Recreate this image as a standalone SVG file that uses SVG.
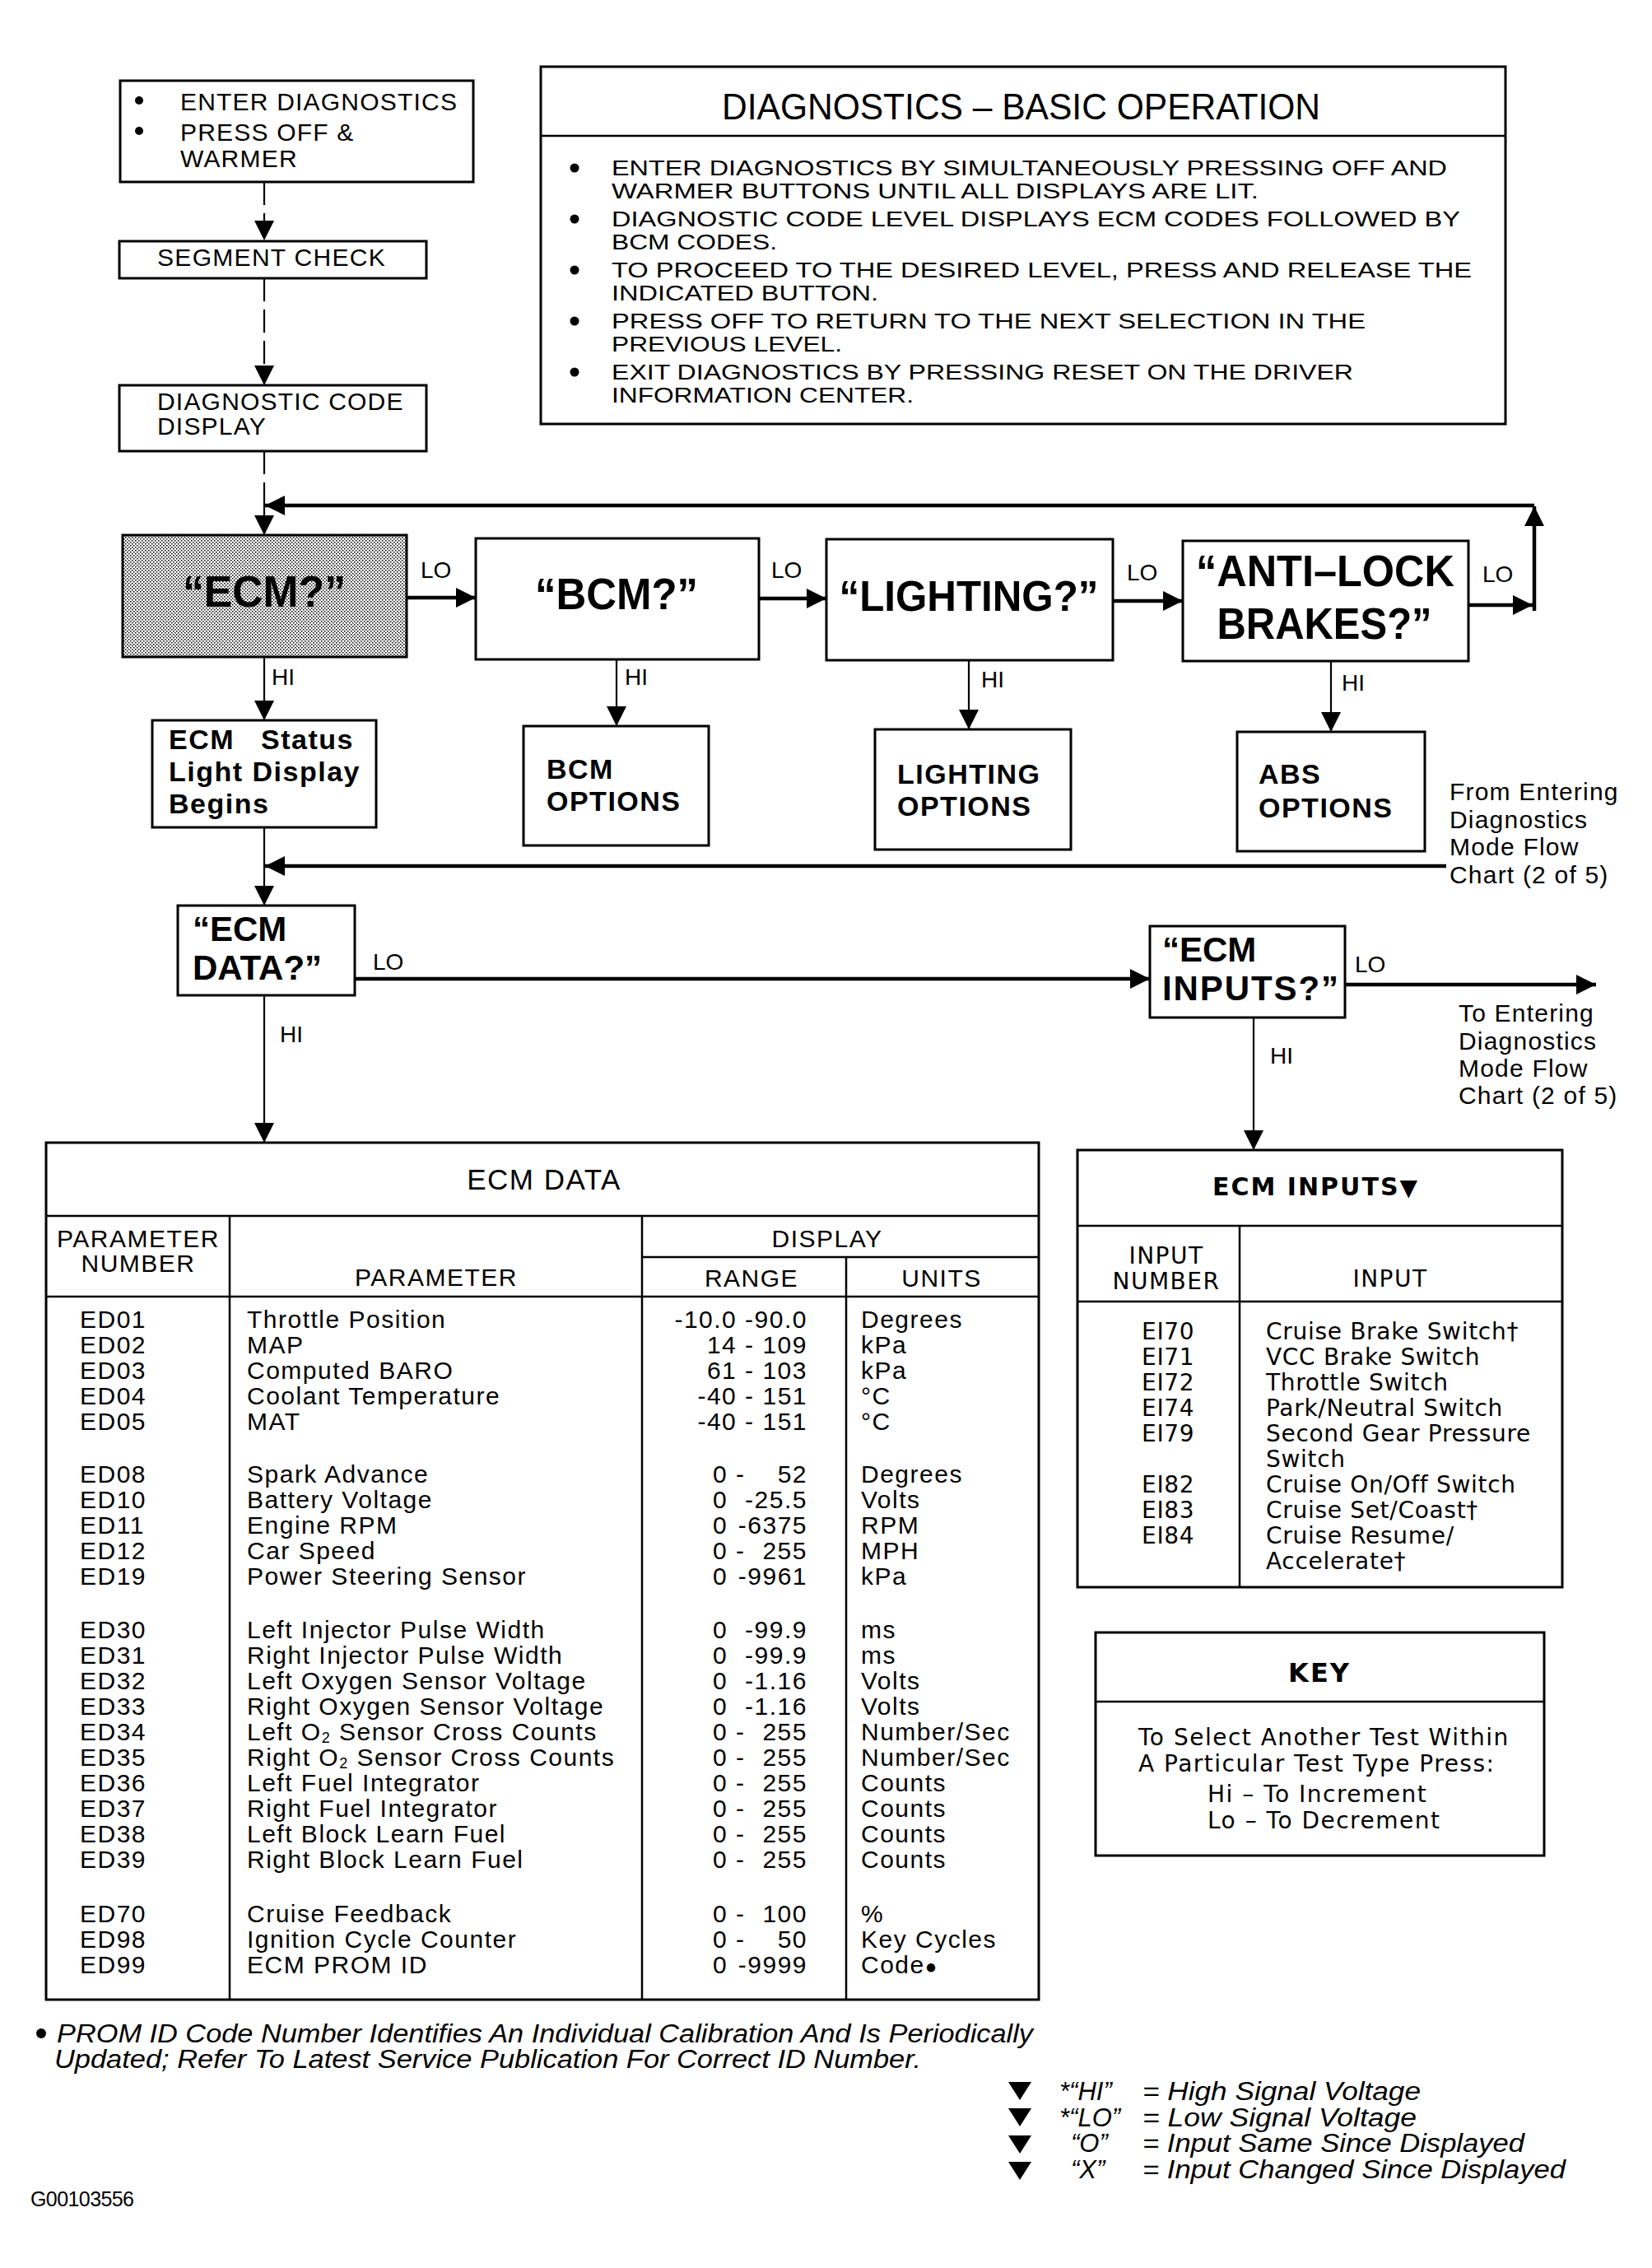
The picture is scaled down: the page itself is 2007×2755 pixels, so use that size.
<svg xmlns="http://www.w3.org/2000/svg" width="2007" height="2755" viewBox="0 0 2007 2755">
<style>
.bx{fill:none;stroke:#000;stroke-width:3}
.ln{fill:none;stroke:#000;stroke-width:2.5}
.c{fill:none;stroke:#000;stroke-width:2.2}
.th{stroke-width:4.5}
.d{stroke-dasharray:28 10}
text{font-family:"Liberation Sans",Arial,sans-serif;fill:#000}
.t{font-size:30px;letter-spacing:1.2px}
.bo{font-size:25px}
.tb{font-size:30px;letter-spacing:1.5px}
.lb{font-size:28px}
.big{font-size:54px;font-weight:bold}
.mb{font-size:42px;font-weight:bold}
.ob{font-size:34px;font-weight:bold;letter-spacing:1.5px}
.w{font-family:"DejaVu Sans",sans-serif;font-size:28px;letter-spacing:0.7px}
.wk{font-family:"DejaVu Sans",sans-serif;font-size:28px;letter-spacing:1.5px}
.wh{font-family:"DejaVu Sans",sans-serif;font-size:28px;letter-spacing:1.5px}
.wb{font-family:"DejaVu Sans",sans-serif;font-size:30px;font-weight:bold;letter-spacing:2px}
.it{font-size:31px;font-style:italic}
.m{text-anchor:middle}
.e{text-anchor:end}
</style>
<defs>
<marker id="ah" markerUnits="userSpaceOnUse" markerWidth="24" markerHeight="24" viewBox="0 0 24 24" refX="24" refY="12" orient="auto"><path d="M0,0 L24,12 L0,24 z" fill="#000"/></marker>
<pattern id="stip" width="4" height="4" patternUnits="userSpaceOnUse"><rect width="4" height="4" fill="#fff"/><rect width="1.5" height="1.5" fill="#000"/><rect x="2" y="2" width="1.5" height="1.5" fill="#000"/></pattern>
<polygon id="tri" points="-14,0 14,0 0,22" fill="#000"/>
</defs>
<rect width="2007" height="2755" fill="#fff"/>

<g id="connectors">
<path class="c d" d="M321,221 V292" marker-end="url(#ah)"/>
<path class="c d" d="M321,338 V468" marker-end="url(#ah)"/>
<path class="c d" d="M321,548 V614"/>
<path class="c" d="M321,614 V650" marker-end="url(#ah)"/>
<path class="c th" d="M1864,614 H322" marker-end="url(#ah)"/>
<path class="c th" d="M1864,742 V615" marker-end="url(#ah)"/>
<path class="c th" d="M494,726 H578" marker-end="url(#ah)"/>
<path class="c th" d="M922,727 H1004" marker-end="url(#ah)"/>
<path class="c th" d="M1352,730 H1437" marker-end="url(#ah)"/>
<path class="c th" d="M1784,735 H1862" marker-end="url(#ah)"/>
<path class="c" d="M321,798 V875" marker-end="url(#ah)"/>
<path class="c" d="M749,801 V882" marker-end="url(#ah)"/>
<path class="c" d="M1177,802 V886" marker-end="url(#ah)"/>
<path class="c" d="M1617,803 V889" marker-end="url(#ah)"/>
<path class="c" d="M321,1005 V1100" marker-end="url(#ah)"/>
<path class="c th" d="M1757,1052 H322" marker-end="url(#ah)"/>
<path class="c th" d="M431,1189 H1397" marker-end="url(#ah)"/>
<path class="c th" d="M1634,1196 H1939" marker-end="url(#ah)"/>
<path class="c" d="M321,1209 V1388" marker-end="url(#ah)"/>
<path class="c" d="M1523,1236 V1397" marker-end="url(#ah)"/>
<text class="lb" x="511" y="702">LO</text>
<text class="lb" x="937" y="702">LO</text>
<text class="lb" x="1369" y="705">LO</text>
<text class="lb" x="1801" y="707">LO</text>
<text class="lb" x="453" y="1178">LO</text>
<text class="lb" x="1646" y="1181">LO</text>
<text class="lb" x="330" y="832">HI</text>
<text class="lb" x="759" y="832">HI</text>
<text class="lb" x="1192" y="835">HI</text>
<text class="lb" x="1630" y="839">HI</text>
<text class="lb" x="340" y="1266">HI</text>
<text class="lb" x="1543" y="1292">HI</text>
</g>

<g id="enter">
<rect class="bx" x="146" y="98" width="429" height="123"/>
<circle cx="169" cy="122" r="5"/>
<circle cx="169" cy="159" r="5"/>
<text class="t" x="219" y="134">ENTER DIAGNOSTICS</text>
<text class="t" x="219" y="171">PRESS OFF &amp;</text>
<text class="t" x="219" y="203">WARMER</text>
</g>

<g id="segment">
<rect class="bx" x="145" y="293" width="373" height="45"/>
<text class="t" x="191" y="323" textLength="278">SEGMENT CHECK</text>
</g>

<g id="codedisplay">
<rect class="bx" x="145" y="468" width="373" height="80"/>
<text class="t" x="191" y="498">DIAGNOSTIC CODE</text>
<text class="t" x="191" y="528">DISPLAY</text>
</g>

<g id="basic">
<rect class="bx" x="657" y="81" width="1172" height="434"/>
<line class="ln" x1="657" y1="165" x2="1829" y2="165"/>
<text x="877" y="145" style="font-size:44px" textLength="727" lengthAdjust="spacingAndGlyphs">DIAGNOSTICS – BASIC OPERATION</text>
<circle cx="698" cy="204" r="5.5"/>
<circle cx="698" cy="266" r="5.5"/>
<circle cx="698" cy="328" r="5.5"/>
<circle cx="698" cy="390" r="5.5"/>
<circle cx="698" cy="452" r="5.5"/>
<text class="bo" x="743" y="213" textLength="1015" lengthAdjust="spacingAndGlyphs">ENTER DIAGNOSTICS BY SIMULTANEOUSLY PRESSING OFF AND</text>
<text class="bo" x="743" y="241" textLength="786" lengthAdjust="spacingAndGlyphs">WARMER BUTTONS UNTIL ALL DISPLAYS ARE LIT.</text>
<text class="bo" x="743" y="275" textLength="1031" lengthAdjust="spacingAndGlyphs">DIAGNOSTIC CODE LEVEL DISPLAYS ECM CODES FOLLOWED BY</text>
<text class="bo" x="743" y="303" textLength="201" lengthAdjust="spacingAndGlyphs">BCM CODES.</text>
<text class="bo" x="743" y="337" textLength="1045" lengthAdjust="spacingAndGlyphs">TO PROCEED TO THE DESIRED LEVEL, PRESS AND RELEASE THE</text>
<text class="bo" x="743" y="365" textLength="324" lengthAdjust="spacingAndGlyphs">INDICATED BUTTON.</text>
<text class="bo" x="743" y="399" textLength="916" lengthAdjust="spacingAndGlyphs">PRESS OFF TO RETURN TO THE NEXT SELECTION IN THE</text>
<text class="bo" x="743" y="427" textLength="280" lengthAdjust="spacingAndGlyphs">PREVIOUS LEVEL.</text>
<text class="bo" x="743" y="461" textLength="901" lengthAdjust="spacingAndGlyphs">EXIT DIAGNOSTICS BY PRESSING RESET ON THE DRIVER</text>
<text class="bo" x="743" y="489" textLength="367" lengthAdjust="spacingAndGlyphs">INFORMATION CENTER.</text>
</g>

<g id="ecm">
<rect x="149" y="650" width="345" height="148" fill="url(#stip)" stroke="#000" stroke-width="3"/>
<text class="big m" x="321" y="737" textLength="198" lengthAdjust="spacingAndGlyphs">“ECM?”</text>
</g>
<g id="bcm">
<rect class="bx" x="578" y="654" width="344" height="147"/>
<text class="big m" x="749" y="740" textLength="198" lengthAdjust="spacingAndGlyphs">“BCM?”</text>
</g>
<g id="lighting">
<rect class="bx" x="1004" y="655" width="348" height="147"/>
<text class="big m" x="1177" y="742" style="font-size:52px" textLength="315" lengthAdjust="spacingAndGlyphs">“LIGHTING?”</text>
</g>
<g id="antilock">
<rect class="bx" x="1437" y="657" width="347" height="146"/>
<text class="big m" x="1610" y="712" textLength="314" lengthAdjust="spacingAndGlyphs">“ANTI–LOCK</text>
<text class="big m" x="1609" y="776" textLength="261" lengthAdjust="spacingAndGlyphs">BRAKES?”</text>
</g>

<g id="ecmstatus">
<rect class="bx" x="185" y="875" width="272" height="130"/>
<text class="ob" x="205" y="910">ECM<tspan x="317">Status</tspan></text>
<text class="ob" x="205" y="949">Light Display</text>
<text class="ob" x="205" y="988">Begins</text>
</g>
<g id="bcmoptions">
<rect class="bx" x="636" y="882" width="225" height="145"/>
<text class="ob" x="664" y="946">BCM</text>
<text class="ob" x="664" y="985">OPTIONS</text>
</g>
<g id="lightingoptions">
<rect class="bx" x="1063" y="886" width="238" height="146"/>
<text class="ob" x="1090" y="952">LIGHTING</text>
<text class="ob" x="1090" y="991">OPTIONS</text>
</g>
<g id="absoptions">
<rect class="bx" x="1503" y="889" width="228" height="145"/>
<text class="ob" x="1529" y="952">ABS</text>
<text class="ob" x="1529" y="993">OPTIONS</text>
</g>

<g id="fromnote">
<text class="t" x="1761" y="972">From Entering</text>
<text class="t" x="1761" y="1006">Diagnostics</text>
<text class="t" x="1761" y="1039">Mode Flow</text>
<text class="t" x="1761" y="1073">Chart (2 of 5)</text>
</g>

<g id="ecmdataq">
<rect class="bx" x="216" y="1100" width="215" height="109"/>
<text class="mb" x="234" y="1143">“ECM</text>
<text class="mb" x="234" y="1190">DATA?”</text>
</g>
<g id="ecminputsq">
<rect class="bx" x="1397" y="1125" width="237" height="111"/>
<text class="mb" x="1412" y="1168">“ECM</text>
<text class="mb" x="1412" y="1215" textLength="214">INPUTS?”</text>
</g>

<g id="tonote">
<text class="t" x="1772" y="1241">To Entering</text>
<text class="t" x="1772" y="1275">Diagnostics</text>
<text class="t" x="1772" y="1308">Mode Flow</text>
<text class="t" x="1772" y="1341">Chart (2 of 5)</text>
</g>

<g id="ecmdata">
<rect class="bx" x="56" y="1388" width="1206" height="1041"/>
<line class="ln" x1="56" y1="1477" x2="1262" y2="1477"/>
<line class="ln" x1="56" y1="1575" x2="1262" y2="1575"/>
<line class="ln" x1="780" y1="1527" x2="1262" y2="1527"/>
<line class="ln" x1="279" y1="1477" x2="279" y2="2429"/>
<line class="ln" x1="780" y1="1477" x2="780" y2="2429"/>
<line class="ln" x1="1028" y1="1527" x2="1028" y2="2429"/>
<text class="tb m" x="661" y="1445" style="font-size:35px">ECM DATA</text>
<text class="tb m" x="168" y="1515">PARAMETER</text>
<text class="tb m" x="168" y="1545">NUMBER</text>
<text class="tb m" x="530" y="1562">PARAMETER</text>
<text class="tb m" x="1005" y="1515">DISPLAY</text>
<text class="tb m" x="913" y="1563">RANGE</text>
<text class="tb m" x="1144" y="1563">UNITS</text>

<text class="tb" x="97" y="1613">ED01</text><text class="tb" x="300" y="1613">Throttle Position</text><text class="tb e" x="981" y="1613">-10.0 -90.0</text><text class="tb" x="1046" y="1613">Degrees</text>
<text class="tb" x="97" y="1644">ED02</text><text class="tb" x="300" y="1644">MAP</text><text class="tb e" x="981" y="1644">14 - 109</text><text class="tb" x="1046" y="1644">kPa</text>
<text class="tb" x="97" y="1675">ED03</text><text class="tb" x="300" y="1675">Computed BARO</text><text class="tb e" x="981" y="1675">61 - 103</text><text class="tb" x="1046" y="1675">kPa</text>
<text class="tb" x="97" y="1706">ED04</text><text class="tb" x="300" y="1706">Coolant Temperature</text><text class="tb e" x="981" y="1706">-40 - 151</text><text class="tb" x="1046" y="1706">°C</text>
<text class="tb" x="97" y="1737">ED05</text><text class="tb" x="300" y="1737">MAT</text><text class="tb e" x="981" y="1737">-40 - 151</text><text class="tb" x="1046" y="1737">°C</text>

<text class="tb" x="97" y="1801">ED08</text><text class="tb" x="300" y="1801">Spark Advance</text><text class="tb" x="866" y="1801">0 -</text><text class="tb e" x="981" y="1801">52</text><text class="tb" x="1046" y="1801">Degrees</text>
<text class="tb" x="97" y="1832">ED10</text><text class="tb" x="300" y="1832">Battery Voltage</text><text class="tb" x="866" y="1832">0</text><text class="tb e" x="981" y="1832">-25.5</text><text class="tb" x="1046" y="1832">Volts</text>
<text class="tb" x="97" y="1863">ED11</text><text class="tb" x="300" y="1863">Engine RPM</text><text class="tb" x="866" y="1863">0</text><text class="tb e" x="981" y="1863">-6375</text><text class="tb" x="1046" y="1863">RPM</text>
<text class="tb" x="97" y="1894">ED12</text><text class="tb" x="300" y="1894">Car Speed</text><text class="tb" x="866" y="1894">0 -</text><text class="tb e" x="981" y="1894">255</text><text class="tb" x="1046" y="1894">MPH</text>
<text class="tb" x="97" y="1925">ED19</text><text class="tb" x="300" y="1925">Power Steering Sensor</text><text class="tb" x="866" y="1925">0</text><text class="tb e" x="981" y="1925">-9961</text><text class="tb" x="1046" y="1925">kPa</text>

<text class="tb" x="97" y="1990">ED30</text><text class="tb" x="300" y="1990">Left Injector Pulse Width</text><text class="tb" x="866" y="1990">0</text><text class="tb e" x="981" y="1990">-99.9</text><text class="tb" x="1046" y="1990">ms</text>
<text class="tb" x="97" y="2021">ED31</text><text class="tb" x="300" y="2021">Right Injector Pulse Width</text><text class="tb" x="866" y="2021">0</text><text class="tb e" x="981" y="2021">-99.9</text><text class="tb" x="1046" y="2021">ms</text>
<text class="tb" x="97" y="2052">ED32</text><text class="tb" x="300" y="2052">Left Oxygen Sensor Voltage</text><text class="tb" x="866" y="2052">0</text><text class="tb e" x="981" y="2052">-1.16</text><text class="tb" x="1046" y="2052">Volts</text>
<text class="tb" x="97" y="2083">ED33</text><text class="tb" x="300" y="2083">Right Oxygen Sensor Voltage</text><text class="tb" x="866" y="2083">0</text><text class="tb e" x="981" y="2083">-1.16</text><text class="tb" x="1046" y="2083">Volts</text>
<text class="tb" x="97" y="2114">ED34</text><text class="tb" x="300" y="2114">Left O<tspan dy="3" style="font-size:18px">2</tspan><tspan dy="-3"> Sensor Cross Counts</tspan></text><text class="tb" x="866" y="2114">0 -</text><text class="tb e" x="981" y="2114">255</text><text class="tb" x="1046" y="2114">Number/Sec</text>
<text class="tb" x="97" y="2145">ED35</text><text class="tb" x="300" y="2145">Right O<tspan dy="3" style="font-size:18px">2</tspan><tspan dy="-3"> Sensor Cross Counts</tspan></text><text class="tb" x="866" y="2145">0 -</text><text class="tb e" x="981" y="2145">255</text><text class="tb" x="1046" y="2145">Number/Sec</text>
<text class="tb" x="97" y="2176">ED36</text><text class="tb" x="300" y="2176">Left Fuel Integrator</text><text class="tb" x="866" y="2176">0 -</text><text class="tb e" x="981" y="2176">255</text><text class="tb" x="1046" y="2176">Counts</text>
<text class="tb" x="97" y="2207">ED37</text><text class="tb" x="300" y="2207">Right Fuel Integrator</text><text class="tb" x="866" y="2207">0 -</text><text class="tb e" x="981" y="2207">255</text><text class="tb" x="1046" y="2207">Counts</text>
<text class="tb" x="97" y="2238">ED38</text><text class="tb" x="300" y="2238">Left Block Learn Fuel</text><text class="tb" x="866" y="2238">0 -</text><text class="tb e" x="981" y="2238">255</text><text class="tb" x="1046" y="2238">Counts</text>
<text class="tb" x="97" y="2269">ED39</text><text class="tb" x="300" y="2269">Right Block Learn Fuel</text><text class="tb" x="866" y="2269">0 -</text><text class="tb e" x="981" y="2269">255</text><text class="tb" x="1046" y="2269">Counts</text>

<text class="tb" x="97" y="2335">ED70</text><text class="tb" x="300" y="2335">Cruise Feedback</text><text class="tb" x="866" y="2335">0 -</text><text class="tb e" x="981" y="2335">100</text><text class="tb" x="1046" y="2335">%</text>
<text class="tb" x="97" y="2366">ED98</text><text class="tb" x="300" y="2366">Ignition Cycle Counter</text><text class="tb" x="866" y="2366">0 -</text><text class="tb e" x="981" y="2366">50</text><text class="tb" x="1046" y="2366">Key Cycles</text>
<text class="tb" x="97" y="2397">ED99</text><text class="tb" x="300" y="2397">ECM PROM ID</text><text class="tb" x="866" y="2397">0</text><text class="tb e" x="981" y="2397">-9999</text><text class="tb" x="1046" y="2397">Code<tspan style="font-size:24px">●</tspan></text>
</g>

<g id="ecminputs">
<rect class="bx" x="1309" y="1397" width="589" height="531"/>
<line class="ln" x1="1309" y1="1489" x2="1898" y2="1489"/>
<line class="ln" x1="1309" y1="1581" x2="1898" y2="1581"/>
<line class="ln" x1="1506" y1="1489" x2="1506" y2="1928"/>
<text class="wb" x="1473" y="1452">ECM INPUTS<tspan style="font-size:28px;letter-spacing:0">▼</tspan></text>
<text class="wh m" x="1417" y="1535">INPUT</text>
<text class="wh m" x="1417" y="1566">NUMBER</text>
<text class="wh m" x="1689" y="1563">INPUT</text>
<text class="w" x="1387" y="1627">EI70</text><text class="w" x="1538" y="1627">Cruise Brake Switch†</text>
<text class="w" x="1387" y="1658">EI71</text><text class="w" x="1538" y="1658">VCC Brake Switch</text>
<text class="w" x="1387" y="1689">EI72</text><text class="w" x="1538" y="1689">Throttle Switch</text>
<text class="w" x="1387" y="1720">EI74</text><text class="w" x="1538" y="1720">Park/Neutral  Switch</text>
<text class="w" x="1387" y="1751">EI79</text><text class="w" x="1538" y="1751">Second Gear Pressure</text>
<text class="w" x="1538" y="1782">Switch</text>
<text class="w" x="1387" y="1813">EI82</text><text class="w" x="1538" y="1813">Cruise On/Off Switch</text>
<text class="w" x="1387" y="1844">EI83</text><text class="w" x="1538" y="1844">Cruise Set/Coast†</text>
<text class="w" x="1387" y="1875">EI84</text><text class="w" x="1538" y="1875">Cruise Resume/</text>
<text class="w" x="1538" y="1906">Accelerate†</text>
</g>

<g id="key">
<rect class="bx" x="1331" y="1983" width="545" height="271"/>
<line class="ln" x1="1331" y1="2067" x2="1876" y2="2067"/>
<text class="wb m" x="1603" y="2043" style="font-size:32px">KEY</text>
<text class="wk" x="1383" y="2120">To Select Another Test Within</text>
<text class="wk" x="1383" y="2152">A Particular Test Type Press:</text>
<text class="wk" x="1467" y="2189">Hi – To Increment</text>
<text class="wk" x="1467" y="2221">Lo – To Decrement</text>
</g>

<g id="footnote">
<circle cx="50" cy="2470" r="6"/>
<text class="it" x="69" y="2481" textLength="1186" lengthAdjust="spacingAndGlyphs">PROM ID Code Number Identifies An Individual Calibration And Is Periodically</text>
<text class="it" x="66" y="2512" textLength="1053" lengthAdjust="spacingAndGlyphs">Updated; Refer To Latest Service Publication For Correct ID Number.</text>
</g>

<g id="legend">
<use href="#tri" x="1239" y="2529"/>
<use href="#tri" x="1239" y="2561"/>
<use href="#tri" x="1239" y="2594"/>
<use href="#tri" x="1239" y="2626"/>
<text class="it" x="1287" y="2551">*“HI”</text>
<text class="it" x="1287" y="2583">*“LO”</text>
<text class="it" x="1301" y="2614">“O”</text>
<text class="it" x="1301" y="2646">“X”</text>
<text class="it" x="1388" y="2551" textLength="338" lengthAdjust="spacingAndGlyphs">= High Signal Voltage</text>
<text class="it" x="1388" y="2583" textLength="333" lengthAdjust="spacingAndGlyphs">= Low Signal Voltage</text>
<text class="it" x="1388" y="2614" textLength="464" lengthAdjust="spacingAndGlyphs">= Input Same Since Displayed</text>
<text class="it" x="1388" y="2646" textLength="514" lengthAdjust="spacingAndGlyphs">= Input Changed Since Displayed</text>
</g>

<text x="37" y="2680" style="font-size:25px" textLength="126">G00103556</text>
</svg>
